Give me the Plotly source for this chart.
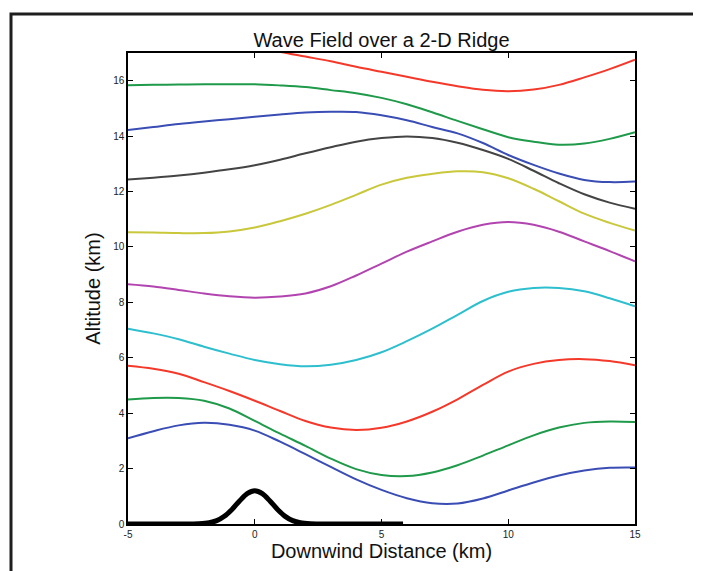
import plotly.graph_objects as go

# Common x grid (km) for the streamlines
x_km = [-5, -4, -3, -2, -1, 0, 1, 2, 3, 4, 5, 6, 7, 8, 9, 10, 11, 12, 13, 14, 15]

# Streamline altitudes (km), bottom to top
line1_blue = [3.09, 3.35, 3.56, 3.65, 3.58, 3.37, 2.97, 2.52, 2.06, 1.61, 1.23, 0.93, 0.75, 0.74, 0.92, 1.21, 1.50, 1.75, 1.93, 2.03, 2.04]
line2_green = [4.49, 4.55, 4.55, 4.45, 4.17, 3.72, 3.26, 2.82, 2.36, 1.98, 1.77, 1.73, 1.86, 2.12, 2.47, 2.84, 3.20, 3.48, 3.65, 3.70, 3.68]
line3_red = [5.71, 5.60, 5.42, 5.12, 4.80, 4.45, 4.08, 3.72, 3.48, 3.39, 3.47, 3.70, 4.05, 4.50, 5.02, 5.50, 5.78, 5.92, 5.95, 5.88, 5.73]
line4_cyan = [7.05, 6.88, 6.67, 6.40, 6.15, 5.92, 5.77, 5.69, 5.75, 5.92, 6.20, 6.60, 7.05, 7.55, 8.05, 8.38, 8.52, 8.52, 8.40, 8.15, 7.86]
line5_magenta = [8.65, 8.57, 8.45, 8.32, 8.22, 8.17, 8.21, 8.32, 8.58, 8.97, 9.40, 9.83, 10.20, 10.55, 10.80, 10.90, 10.80, 10.55, 10.20, 9.85, 9.48]
line6_yellow = [10.53, 10.52, 10.50, 10.50, 10.56, 10.70, 10.93, 11.20, 11.52, 11.88, 12.25, 12.50, 12.64, 12.73, 12.70, 12.48, 12.10, 11.65, 11.20, 10.87, 10.59]
line7_gray = [12.43, 12.50, 12.58, 12.68, 12.80, 12.95, 13.15, 13.38, 13.60, 13.80, 13.93, 13.99, 13.93, 13.76, 13.50, 13.18, 12.75, 12.30, 11.90, 11.60, 11.38]
line8_blue = [14.22, 14.33, 14.44, 14.53, 14.61, 14.70, 14.78, 14.85, 14.88, 14.87, 14.75, 14.57, 14.33, 14.10, 13.75, 13.32, 12.96, 12.65, 12.42, 12.34, 12.36]
line9_green = [15.84, 15.85, 15.86, 15.87, 15.87, 15.87, 15.83, 15.77, 15.66, 15.55, 15.38, 15.15, 14.86, 14.55, 14.25, 13.96, 13.80, 13.69, 13.73, 13.90, 14.14]
line10_red = [17.45, 17.45, 17.44, 17.42, 17.38, 17.25, 17.04, 16.87, 16.70, 16.50, 16.32, 16.14, 15.96, 15.80, 15.67, 15.62, 15.68, 15.85, 16.12, 16.42, 16.76]

# Ridge profile (km)
ridge_x = [-5, -3, -2.2, -1.8, -1.5, -1.2, -0.9, -0.6, -0.3, 0, 0.3, 0.6, 0.9, 1.2, 1.5, 1.8, 2.2, 3, 5.85]
ridge_h = [0, 0, 0.01, 0.044, 0.12, 0.276, 0.525, 0.83, 1.095, 1.2, 1.095, 0.83, 0.525, 0.276, 0.12, 0.044, 0.01, 0, 0]

x_ticks = [-5, 0, 5, 10, 15]
y_ticks = [0, 2, 4, 6, 8, 10, 12, 14, 16]

series = [
    (line1_blue, "#3a4db4"),
    (line2_green, "#1f9a4a"),
    (line3_red, "#f4382a"),
    (line4_cyan, "#2ebfcf"),
    (line5_magenta, "#b244b0"),
    (line6_yellow, "#c9c73a"),
    (line7_gray, "#444444"),
    (line8_blue, "#3a4db4"),
    (line9_green, "#1f9a4a"),
    (line10_red, "#f4382a"),
]

fig = go.Figure()
for ys, col in series:
    fig.add_trace(go.Scatter(x=x_km, y=ys, mode="lines",
                             line=dict(color=col, width=2, shape="spline", smoothing=1.0),
                             showlegend=False, hoverinfo="skip"))

fig.add_trace(go.Scatter(x=ridge_x, y=ridge_h, mode="lines",
                         line=dict(color="black", width=5, shape="spline", smoothing=0.8),
                         showlegend=False, hoverinfo="skip"))

# page has an 8px body margin
OFF = 8
W, H = 701 - OFF, 571 - OFF
L, T = 128 - OFF, 53 - OFF
pw, ph = 507, 471
R = W - L - pw
B = H - T - ph

def px_to_paper_x(px):
    return (px - OFF - L) / pw

def px_to_paper_y(py):
    return (T + ph - (py - OFF)) / ph

fig.add_shape(type="rect", xref="paper", yref="paper",
              x0=px_to_paper_x(11), x1=px_to_paper_x(720),
              y0=px_to_paper_y(600), y1=px_to_paper_y(14),
              line=dict(color="#1e1e1e", width=3), fillcolor="rgba(0,0,0,0)", layer="above")

fig.update_layout(
    width=W, height=H,
    margin=dict(l=L, r=R, t=T, b=B),
    paper_bgcolor="white", plot_bgcolor="white",
    font=dict(family="Liberation Sans, Arial, sans-serif", color="#111111"),
    title=dict(text="Wave Field over a 2-D Ridge", x=(L + pw / 2) / W, xanchor="center",
               y=1 - (40 - OFF) / H, yanchor="middle", font=dict(size=20, color="#111111")),
    xaxis=dict(range=[-5, 15], tickvals=x_ticks, ticktext=[str(v) for v in x_ticks],
               ticks="inside", ticklen=5, tickcolor="black", showline=True, linecolor="black",
               linewidth=1.5, mirror="ticks", showgrid=False, zeroline=False,
               tickfont=dict(size=10, color="#222222"),
               title=dict(text="Downwind Distance (km)", font=dict(size=20, color="#111111"), standoff=5)),
    yaxis=dict(range=[0, 17], tickvals=y_ticks, ticktext=[str(v) for v in y_ticks],
               ticks="inside", ticklen=5, tickcolor="black", showline=True, linecolor="black",
               linewidth=1.5, mirror="ticks", showgrid=False, zeroline=False,
               tickfont=dict(size=10, color="#222222"),
               title=dict(text="Altitude (km)", font=dict(size=20, color="#111111"), standoff=7)),
)

fig.write_html("out.html")
